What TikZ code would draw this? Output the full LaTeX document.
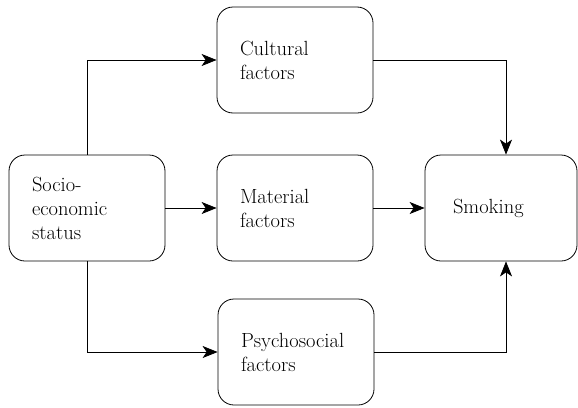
\documentclass[tikz,border=0pt]{standalone}
\usetikzlibrary{arrows.meta}
\usetikzlibrary{calc}

\begin{document}
\begin{tikzpicture}[x=1pt,y=-1pt,line width=0.8pt,
    factorbox/.style={draw, rounded corners=16pt, minimum width=156pt,
      minimum height=106pt, text width=110pt, inner xsep=23pt,
      align=left, font=\fontsize{20.5}{24}\selectfont},
    arr/.style={-{Stealth[length=15pt,width=12pt,inset=4pt]}, line width=0.7pt}]

  % page frame
  \useasboundingbox (0,0) rectangle (578,407);

  % boxes
  \node[factorbox] (ses)  at (87,208)  {Socio-\\economic\\status};
  \node[factorbox] (cult) at (295,60)  {Cultural\\factors};
  \node[factorbox] (mat)  at (295,208) {Material\\factors};
  \node[factorbox] (psy)  at (296,352) {Psychosocial\\factors};
  \node[factorbox, minimum width=152pt, inner xsep=28pt,
        text width=96pt] (smk) at (501,208) {Smoking};

  % from status to the three factors
  \draw[arr] (ses.north) |- (cult.west);
  \draw[arr] (ses.east) -- (mat.west);
  \draw[arr] (ses.south) |- (psy.west);

  % from the factors to smoking
  \draw[arr] (cult.east) -| ($(smk.north)+(5,0)$);
  \draw[arr] (mat.east) -- (smk.west);
  \draw[arr] (psy.east) -| ($(smk.south)+(5,0)$);

\end{tikzpicture}
\end{document}
